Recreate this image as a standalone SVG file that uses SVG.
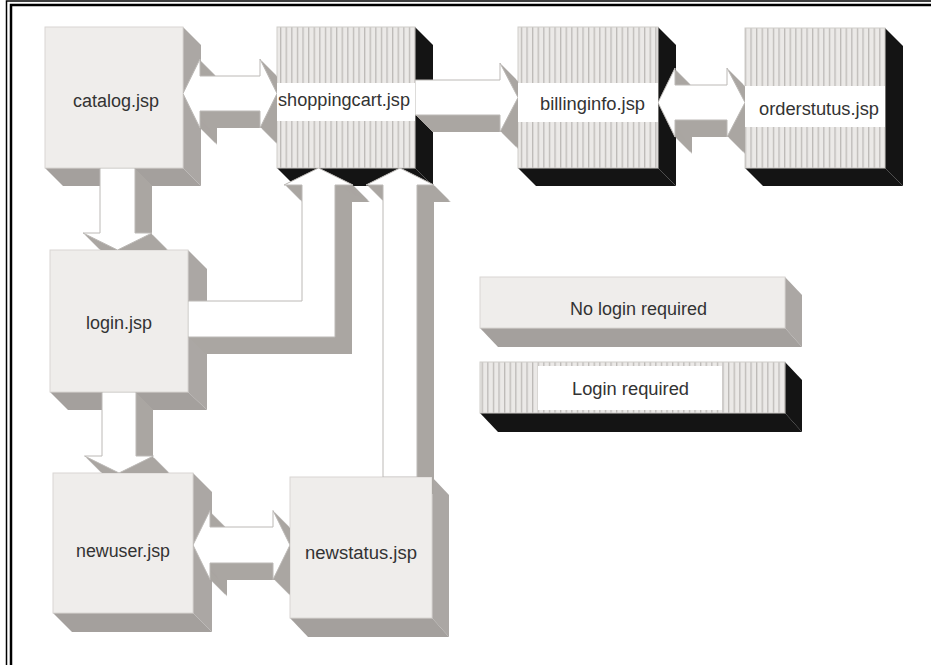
<svg xmlns="http://www.w3.org/2000/svg" width="931" height="665" viewBox="0 0 931 665">
<style>
  .lbl { font-family: "Liberation Sans", Arial, sans-serif; font-size: 18px; fill: #333; lengthAdjust: spacingAndGlyphs; }
  .front-n { fill: #efedeb; stroke: #d9d6d3; stroke-width: 1; }
  .front-l { fill: url(#stripes); stroke: #d0cdca; stroke-width: 1; }
  .side-n { fill: #aba7a4; }
  .bot-n { fill: #a4a09d; }
  .side-l { fill: #141414; }
  .band { fill: #ffffff; }
  .frame { stroke: #000; fill: none; }
</style>
<defs>
  <pattern id="stripes" patternUnits="userSpaceOnUse" width="5.6" height="10">
    <rect width="5.6" height="10" fill="#ebe9e7"/>
    <rect x="0" width="1.3" height="10" fill="#bdbab7"/>
  </pattern>
  <mask id="nodeMask" maskUnits="userSpaceOnUse" x="0" y="0" width="931" height="665">
    <rect width="931" height="665" fill="#fff"/>
    <rect x="45" y="27" width="138" height="141" fill="#000"/>
    <rect x="277" y="27" width="138" height="141" fill="#000"/>
    <rect x="518" y="27" width="140" height="141" fill="#000"/>
    <rect x="745" y="28" width="140" height="140" fill="#000"/>
    <rect x="50" y="250" width="138" height="142" fill="#000"/>
    <rect x="53" y="473" width="140" height="140" fill="#000"/>
    <rect x="290" y="477" width="142" height="141" fill="#000"/>
  </mask>
  <g id="x1"><use href="#arrow-shapes"/><use href="#arrow-shapes" x="1" y="1"/></g>
  <g id="x2"><use href="#x1"/><use href="#x1" x="2" y="2"/></g>
  <g id="x3"><use href="#x2"/><use href="#x2" x="4" y="4"/></g>
  <g id="x4"><use href="#x3"/><use href="#x3" x="8" y="8"/></g>
  <g id="x5"><use href="#x4"/><use href="#x4" x="2" y="2"/></g>
</defs>

<rect width="931" height="665" fill="#fff"/>

<!-- frame -->
<g id="frame">
  <path class="frame" stroke-width="1.5" d="M6.5,665 V1 H931"/>
  <path class="frame" stroke-width="2.5" d="M11,665 V5 H931"/>
</g>

<!-- nodes -->
<g id="catalog">
  <polygon class="side-n" points="183,27 201,45 201,186 183,168"/>
  <polygon class="bot-n" points="45,168 183,168 201,186 63,186"/>
  <rect class="front-n" x="45" y="27" width="138" height="141"/>
  <text class="lbl" x="73" y="107" textLength="86" lengthAdjust="spacingAndGlyphs">catalog.jsp</text>
</g>

<g id="shoppingcart">
  <polygon class="side-l" points="415,27 433,45 433,186 415,168"/>
  <polygon class="side-l" points="277,168 415,168 433,186 295,186"/>
  <rect class="front-l" x="277" y="27" width="138" height="141"/>
  <rect class="band" x="277" y="83" width="138" height="38"/>
  <text class="lbl" x="278" y="106" textLength="132" lengthAdjust="spacingAndGlyphs">shoppingcart.jsp</text>
</g>

<g id="billinginfo">
  <polygon class="side-l" points="658,27 676,45 676,186 658,168"/>
  <polygon class="side-l" points="518,168 658,168 676,186 536,186"/>
  <rect class="front-l" x="518" y="27" width="140" height="141"/>
  <rect class="band" x="518" y="83" width="140" height="39"/>
  <text class="lbl" x="540" y="110" textLength="105" lengthAdjust="spacingAndGlyphs">billinginfo.jsp</text>
</g>

<g id="orderstutus">
  <polygon class="side-l" points="885,28 903,46 903,186 885,168"/>
  <polygon class="side-l" points="745,168 885,168 903,186 763,186"/>
  <rect class="front-l" x="745" y="28" width="140" height="140"/>
  <rect class="band" x="745" y="86" width="140" height="41"/>
  <text class="lbl" x="759" y="115" textLength="120" lengthAdjust="spacingAndGlyphs">orderstutus.jsp</text>
</g>

<g id="login">
  <polygon class="side-n" points="188,250 207,269 207,410 188,392"/>
  <polygon class="bot-n" points="50,392 188,392 207,410 68,410"/>
  <rect class="front-n" x="50" y="250" width="138" height="142"/>
  <text class="lbl" x="86" y="329" textLength="66" lengthAdjust="spacingAndGlyphs">login.jsp</text>
</g>

<g id="newuser">
  <polygon class="side-n" points="193,473 212,492 212,632 193,613"/>
  <polygon class="bot-n" points="53,613 193,613 212,632 72,632"/>
  <rect class="front-n" x="53" y="473" width="140" height="140"/>
  <text class="lbl" x="76" y="557" textLength="94" lengthAdjust="spacingAndGlyphs">newuser.jsp</text>
</g>

<g id="newstatus">
  <polygon class="side-n" points="432,477 449,495 449,637 432,618"/>
  <polygon class="bot-n" points="290,618 432,618 449,637 308,637"/>
  <rect class="front-n" x="290" y="477" width="142" height="141"/>
  <text class="lbl" x="305" y="559" textLength="112" lengthAdjust="spacingAndGlyphs">newstatus.jsp</text>
</g>

<g id="legend-no-login">
  <polygon class="side-n" points="785,277 802,295 802,347 785,328"/>
  <polygon class="bot-n" points="480,328 785,328 802,347 498,347"/>
  <rect class="front-n" x="480" y="277" width="305" height="51"/>
  <text class="lbl" x="570" y="315" textLength="137" lengthAdjust="spacingAndGlyphs">No login required</text>
</g>

<g id="legend-login">
  <polygon class="side-l" points="785,362 802,380 802,432 785,413"/>
  <polygon class="side-l" points="480,413 785,413 802,432 498,432"/>
  <rect class="front-l" x="480" y="362" width="305" height="51"/>
  <rect class="band" x="538" y="366" width="184" height="44"/>
  <text class="lbl" x="572" y="395" textLength="117" lengthAdjust="spacingAndGlyphs">Login required</text>
</g>

<!-- connectors -->
<g id="connectors" mask="url(#nodeMask)">
  <g id="connector-depth" fill="#aaa6a2" stroke="none"><use href="#x5"/></g>
  <g id="connector-faces" fill="#ffffff" stroke="#bcb9b6" stroke-width="1">
    <g id="arrow-shapes">
      <path id="catalog-shoppingcart" d="M183,93.5 L200,59 L200,76 L260,76 L260,59 L277,93.5 L260,128 L260,111 L200,111 L200,128 Z"/>
      <path id="shoppingcart-billinginfo" d="M415,80 L500,80 L500,63 L518,97.5 L500,132 L500,115 L415,115 Z"/>
      <path id="billinginfo-orderstutus" d="M658,102.5 L675,68 L675,85 L727,85 L727,68 L745,102.5 L727,137 L727,120 L675,120 L675,137 Z"/>
      <path id="catalog-login" d="M100,168 L135,168 L135,233 L152,233 L117.5,250 L83,233 L100,233 Z"/>
      <path id="login-newuser" d="M102,392 L136,392 L136,456 L153.5,456 L119,473 L84.5,456 L102,456 Z"/>
      <path id="newuser-newstatus" d="M193,545 L210,510.5 L210,527 L273,527 L273,510.5 L290,545 L273,579.5 L273,563 L210,563 L210,579.5 Z"/>
      <path id="login-shoppingcart" d="M188,301 L302,301 L302,185 L284,185 L318.5,168 L353,185 L335,185 L335,337 L188,337 Z"/>
      <path id="newstatus-shoppingcart" d="M383,477 L383,185 L366,185 L400,168 L434,185 L417,185 L417,477 Z"/>
    </g>
  </g>
</g>
</svg>
